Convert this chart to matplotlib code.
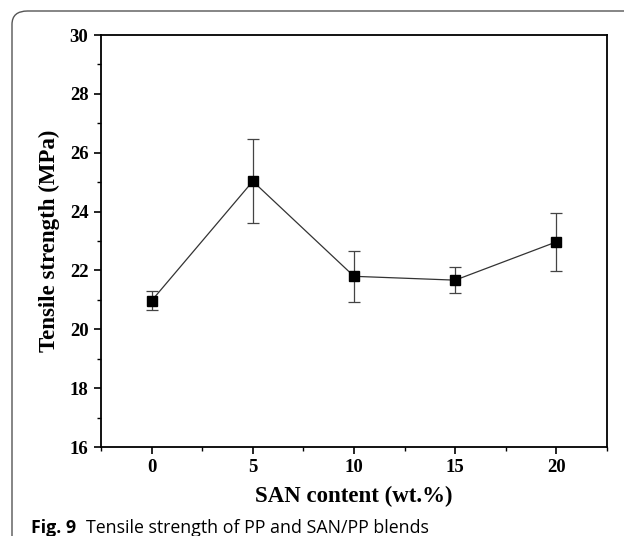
import matplotlib
matplotlib.use("Agg")
import matplotlib.pyplot as plt
from matplotlib.patches import FancyBboxPatch
from matplotlib.ticker import MultipleLocator

san_content = [0, 5, 10, 15, 20]
tensile = [20.97, 25.03, 21.8, 21.67, 22.97]
errors = [0.32, 1.43, 0.86, 0.44, 0.98]
x_ticks = [0, 5, 10, 15, 20]
y_ticks = [16, 18, 20, 22, 24, 26, 28, 30]

W, H = 624, 536
fig = plt.figure(figsize=(W/100, H/100), dpi=100)

# outer rounded frame (right and bottom edges fall outside the image)
frame = FancyBboxPatch((12/W, -0.2), 1.2, 1.2 - 11/H,
                       boxstyle="round,pad=0,rounding_size=0.025",
                       transform=fig.transFigure, fill=False,
                       edgecolor="#555555", linewidth=1.0)
fig.patches.append(frame)

ax = fig.add_axes([101/W, 1 - 447/H, (607-101)/W, (447-35)/H])
ax.plot(san_content, tensile, color="#333333", linewidth=0.9, zorder=2)
ax.errorbar(san_content, tensile, yerr=errors, fmt="none", ecolor="#444444",
            elinewidth=0.9, capsize=4, capthick=0.9, zorder=2)
ax.plot(san_content, tensile, linestyle="none", marker="s", markersize=7,
        color="black", zorder=3)

ax.set_xlim(-2.5, 22.5)
ax.set_ylim(16, 30)
ax.set_xticks(x_ticks)
ax.set_yticks(y_ticks)
ax.xaxis.set_minor_locator(MultipleLocator(2.5))
ax.yaxis.set_minor_locator(MultipleLocator(1))
ax.tick_params(which="major", direction="out", length=5, width=1.2,
               top=False, right=False, pad=4)
ax.tick_params(which="minor", direction="out", length=3, width=1.0,
               top=False, right=False)
for s in ax.spines.values():
    s.set_linewidth(1.3)

tick_font = dict(family="Liberation Serif", weight="bold", size=13.5)
ax.set_xticklabels([str(v) for v in x_ticks], fontdict=tick_font)
ax.set_yticklabels([str(v) for v in y_ticks], fontdict=tick_font)
ax.set_xlabel("SAN content (wt.%)", family="Liberation Serif", weight="bold",
              size=16.5, labelpad=7)
ax.set_ylabel("Tensile strength (MPa)", family="Liberation Serif", weight="bold",
              size=16.5, labelpad=7)

fig.text(31/W, 1 - 533/H, "Fig. 9", family="Open Sans", weight="bold",
         size=12.8, va="baseline", ha="left")
fig.text(86/W, 1 - 533/H, "Tensile strength of PP and SAN/PP blends",
         family="Open Sans", size=12.8, va="baseline", ha="left")

fig.savefig("out.png", dpi=100)
